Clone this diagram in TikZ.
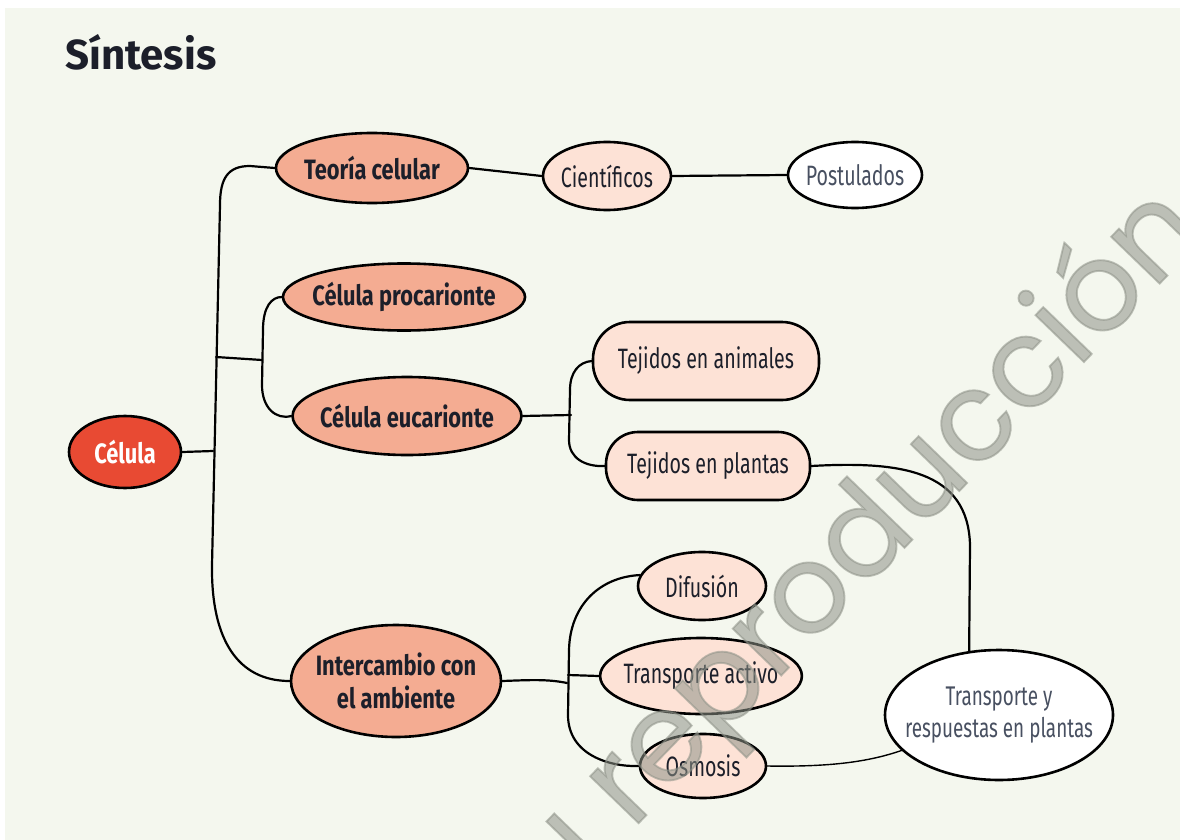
\documentclass[tikz,border=0pt]{standalone}
\usepackage{fontspec}
\setmainfont{Fira Sans}
\newfontfamily\nodefont[FakeStretch=0.7]{Fira Sans}
\newfontfamily\boldnodefont[FakeStretch=0.78]{Fira Sans}
\newfontfamily\titlefont{Fira Sans}
\newfontfamily\wmfont[FakeBold=1.5]{Poppins}
\usetikzlibrary{shapes.geometric}
\definecolor{bg}{HTML}{F4F7EE}
\definecolor{redc}{HTML}{E84A33}
\definecolor{salmon}{HTML}{F4AC92}
\definecolor{peach}{HTML}{FDE2D6}
\definecolor{ink}{HTML}{1C1F2A}
\definecolor{softink}{HTML}{485061}
\definecolor{wmgray}{HTML}{8E9288}
\tikzset{
  bub/.style={ellipse, draw=black, line width=2.6pt, inner sep=-6pt, align=center,
    text=ink, font=\nodefont\fontsize{28}{33}\selectfont},
  lvone/.style={bub, fill=salmon, font=\boldnodefont\bfseries\fontsize{28}{33}\selectfont},
  lvtwo/.style={bub, fill=peach},
  lvthree/.style={bub, fill=white, text=softink},
  rootnode/.style={bub, fill=redc, text=white, font=\boldnodefont\bfseries\fontsize{28}{33}\selectfont},
  roundbub/.style={rectangle, inner sep=0pt},
  conn/.style={draw=black, line width=2.2pt, line cap=round, line join=round},
  thinconn/.style={draw=black, line width=1.4pt, line cap=round},
  wm/.style={inner sep=0pt, text=wmgray, text opacity=0.55, font=\wmfont\fontsize{123}{123}\selectfont}
}
\begin{document}
\begin{tikzpicture}[x=1pt,y=-1pt]
\useasboundingbox (0,0) rectangle (1180,840);
\fill[white] (0,0) rectangle (1180,840);
\fill[bg] (5,8) rectangle (1180,840);

\node[anchor=base west, inner sep=0pt, text=ink, font=\titlefont\bfseries\fontsize{42}{50}\selectfont] (title) at (65,70) {Síntesis};

% nodes
\node[rootnode, minimum width=112pt, minimum height=72pt] (celula) at (125,452) {Célula};
\node[lvone, minimum width=192pt, minimum height=70pt] (teoria) at (372,168) {Teoría celular};
\node[lvtwo, minimum width=128pt, minimum height=68pt] (cientificos) at (607,176) {Científicos};
\node[lvthree, minimum width=134pt, minimum height=66pt] (postulados) at (855,175) {Postulados};
\node[lvone, minimum width=232pt, minimum height=67pt] (proca) at (404,297) {Célula procarionte};
\node[lvone, minimum width=224pt, minimum height=78pt] (euca) at (407,416) {Célula eucarionte};
\node[lvtwo, roundbub, rounded corners=37pt, minimum width=226pt, minimum height=78pt] (tanim) at (706,361) {Tejidos en animales};
\node[lvtwo, roundbub, rounded corners=32pt, minimum width=204pt, minimum height=68pt] (tplan) at (708,466) {Tejidos en plantas};
\node[lvone, minimum width=210pt, minimum height=112pt] (inter) at (396,681) {Intercambio con\\el ambiente};
\node[lvtwo, minimum width=128pt, minimum height=68pt] (difu) at (702,586) {Difusión};
\node[lvtwo, minimum width=200pt, minimum height=76pt] (tact) at (701,676) {Transporte activo};
\node[lvtwo, minimum width=126pt, minimum height=64pt] (osmo) at (703,766) {Osmosis};
\node[lvthree, inner xsep=-28pt, inner ysep=-12pt, minimum width=228pt, minimum height=130pt,
  font=\nodefont\fontsize{27}{32}\selectfont] (tresp) at (999,715) {Transporte y\\respuestas en plantas};

% junction coordinates
\coordinate (jc) at (213,451);
\coordinate (jp1) at (216,357);
\coordinate (jp2) at (262,360);
\coordinate (je) at (571,415);
\coordinate (ji) at (567,683);
\coordinate (jt) at (568,675);

% connectors
\draw[conn] (celula.east) -- (jc);
\draw[conn] (teoria.west) -- (250,166) .. controls (228,166) and (220,178) .. (220,205)
  -- (212,565) .. controls (211,640) and (238,681) .. (inter.west);
\draw[conn] (jp1) -- (jp2);
\draw[conn] (proca.west) .. controls (272,297) and (263,306) .. (263,330)
  -- (262,385) .. controls (262,408) and (276,420) .. (euca.west);
\draw[conn] (teoria.east) -- (cientificos.west);
\draw[conn] (cientificos.east) -- (postulados.west);
\draw[conn] (euca.east) -- (je);
\draw[conn] (tanim.west) .. controls (579,362) and (570,372) .. (570,390)
  -- (569,440) .. controls (569,458) and (585,467) .. (tplan.west);
\draw[conn] (tplan.east) .. controls (900,461) and (968,470) .. (970,545) -- (tresp.115);
\draw[conn] (inter.east) .. controls (530,680) and (548,679) .. (ji);
\draw[conn] (difu.170) .. controls (600,577) and (570,605) .. (569,650)
  -- (568,715) .. controls (568,755) and (610,767) .. (osmo.west);
\draw[conn] (jt) -- (tact.west);
\draw[thinconn] (osmo.east) .. controls (830,767) and (868,762) .. (tresp.200);

% watermark
\node[wm, rotate=46, anchor=base west] (wmark) at (632,830) {\llap{su }reproducción};
\end{tikzpicture}
\end{document}
